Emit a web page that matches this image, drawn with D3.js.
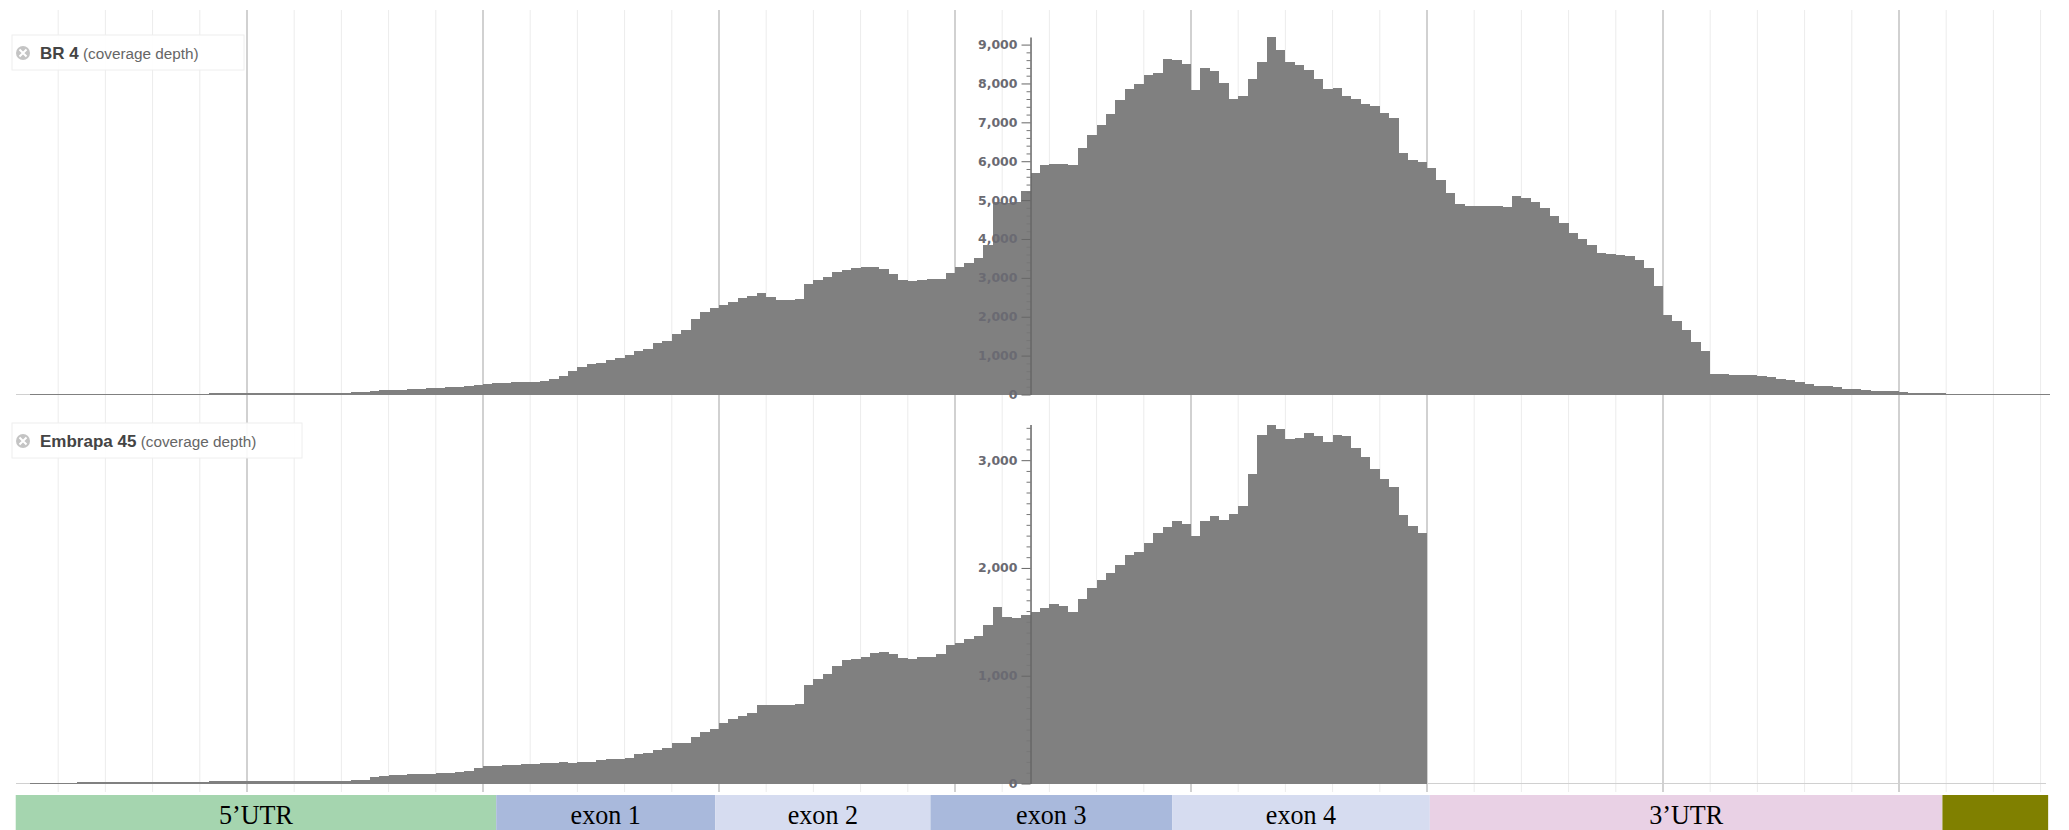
<!DOCTYPE html>
<html>
<head>
<meta charset="utf-8">
<script src="https://cdn.jsdelivr.net/npm/d3@7"></script>
<style>
  body { margin: 0; background: #fff; }
  svg { display: block; }
</style>
</head>
<body>
<div id="chart"></div>
<script>
// coverage depth per bin (one bar per bin)
var br4Depth = [
  0, 0, 5, 8, 10, 10, 12, 12, 14, 15, 15, 16, 18, 18, 20, 20, 22, 22, 24, 25,
  25, 26, 28, 28, 30, 30, 32, 33, 35, 36, 38, 40, 42, 45, 48, 50, 52, 55,
  100, 108, 118, 126, 138, 150, 165, 178, 190, 205, 222, 248, 280, 292, 300, 312, 318, 330,
  343, 411, 463, 600, 720, 788, 823, 900, 943, 1028, 1131, 1183, 1328, 1388, 1568, 1671,
  1945, 2117, 2228, 2297, 2382, 2485, 2528, 2614, 2502, 2442, 2434, 2459, 2853, 2948,
  3033, 3153, 3196, 3248, 3282, 3290, 3239, 3102, 2948, 2922, 2956, 2973, 2973, 3115,
  3290, 3378, 3510, 3850, 4950, 4930, 4950, 5230,
  5685, 5900, 5925, 5925, 5900, 6350, 6670, 6935, 7225, 7570, 7850, 7980, 8210, 8260,
  8640, 8600, 8490, 7825, 8390, 8320, 8020, 7595, 7680, 8110, 8560, 9195, 8850, 8550,
  8470, 8350, 8125, 7850, 7895, 7680, 7595, 7465, 7420, 7235, 7105, 6200, 6030, 5970,
  5820, 5515, 5195, 4900, 4855, 4855, 4855, 4855, 4810, 5110, 5045,
  4950, 4800, 4600, 4420, 4150, 4000, 3850, 3650, 3620, 3600, 3550, 3450, 3250, 2800,
  2050, 1900, 1650, 1360, 1110, 530, 515, 505, 500, 495, 480, 440, 400, 370, 330, 280,
  230, 210, 190, 150, 140, 120, 95, 85, 80, 70, 50, 45, 40, 30, 20, 18, 15, 12, 10,
  8, 6, 5, 4, 3, 2
];

var embrapaDepth = [
  0, 0, 3, 5, 6, 8, 8, 10, 10, 12, 12, 13, 14, 15, 15, 16, 16, 17, 18, 18,
  18, 19, 20, 20, 20, 21, 22, 22, 22, 23, 24, 24, 25, 26, 26, 27, 28, 30,
  60, 70, 75, 80, 85, 88, 90, 95, 100, 110, 120, 140, 160, 165, 170, 175, 180, 185, 190, 193,
  195, 192, 195, 200, 216, 226, 226, 241, 278, 285, 315, 331, 377, 377, 433, 482, 510, 557,
  597, 628, 650, 733, 727, 733, 733, 742, 912, 968, 1020, 1092, 1144, 1154, 1175, 1212,
  1219, 1203, 1160, 1154, 1172, 1172, 1200, 1284, 1308, 1340, 1370, 1475, 1640, 1547, 1531, 1568,
  1593, 1633, 1661, 1649, 1593, 1710, 1810, 1887, 1955, 2032, 2119, 2150, 2227, 2326,
  2378, 2434, 2406, 2298, 2434, 2481, 2444, 2500, 2577, 2870, 3232, 3331, 3285, 3201,
  3207, 3248, 3223, 3164, 3238, 3223, 3109, 3031, 2917, 2821, 2747, 2490, 2388, 2326
];

// gene model regions, in bins
var regionNames  = ["5\u2019UTR", "exon 1", "exon 2", "exon 3", "exon 4", "3\u2019UTR", ""];
var regionStarts = [0.5, 51.4, 74.6, 97.4, 123.0, 150.3, 204.6];
var regionEnds   = [51.4, 74.6, 97.4, 123.0, 150.3, 204.6, 215.8];
var regionColors = ["#a5d5af", "#a9b9dc", "#d6dcf0", "#a9b9dc", "#d6dcf0", "#e9d1e5", "#808000"];

var trackNames = ["BR 4", "Embrapa 45"];

var width = 2069, height = 830;
var nBins = 216, axisBin = 108;

var svg = d3.select("#chart").append("svg")
    .attr("width", width)
    .attr("height", height);

// x: bins -> pixels
var x = d3.scaleLinear().domain([0, nBins]).range([11, 11 + nBins * 9.44]);

// gridlines every 5 bins, stronger every 25
var gridBins = d3.range(5, nBins, 5);
svg.append("g").selectAll("line")
    .data(gridBins)
    .enter()
    .append("line")
    .attr("x1", function(d) { return x(d); })
    .attr("x2", function(d) { return x(d); })
    .attr("y1", 10)
    .attr("y2", 792)
    .style("stroke", function(d) { return d % 25 === 0 ? "#c6c6c6" : "#ececec"; })
    .style("stroke-width", function(d) { return d % 25 === 0 ? 1.6 : 1; });

var tracks = [
  {name: trackNames[0], data: br4Depth, y0: 394.5, y1: 37, minor: 200, boxTop: 35, boxW: 232},
  {name: trackNames[1], data: embrapaDepth, y0: 783.5, y1: 424.5, minor: 100, boxTop: 423, boxW: 290}
];

tracks.forEach(function(t) {
  var y = d3.scaleLinear()
      .domain([0, d3.max(t.data)])
      .range([t.y0, t.y1]);

  var g = svg.append("g");

  // baseline
  g.append("line")
      .attr("x1", 16).attr("x2", 2046)
      .attr("y1", t.y0).attr("y2", t.y0)
      .style("stroke", "#d0d0d0");

  // bars
  g.selectAll("rect")
      .data(t.data)
      .enter()
      .append("rect")
      .attr("x", function(d, i) { return x(i); })
      .attr("width", function(d, i) { return x(i + 1) - x(i); })
      .attr("y", function(d) { return y(d); })
      .attr("height", function(d) { return t.y0 - y(d); })
      .attr("shape-rendering", "crispEdges")
      .style("fill", "#808080");

  // minor ticks
  var minorTicks = d3.range(0, y.domain()[1], t.minor).filter(function(v) { return v % 1000 !== 0; });
  g.append("g")
      .attr("transform", "translate(" + x(axisBin) + ",0)")
      .call(d3.axisLeft(y).tickValues(minorTicks).tickSize(4).tickFormat(""))
      .call(function(a) {
        a.select(".domain").remove();
        a.selectAll("line").style("stroke", "#777");
      });

  // y axis
  var majorTicks = d3.range(0, y.domain()[1], 1000);
  g.append("g")
      .attr("transform", "translate(" + x(axisBin) + ",0)")
      .call(d3.axisLeft(y).tickValues(majorTicks).tickSize(9).tickSizeOuter(0)
            .tickPadding(4).tickFormat(d3.format(",")))
      .call(function(a) {
        a.select(".domain").style("stroke", "#666").style("stroke-width", 1.5);
        a.selectAll("line").style("stroke", "#666");
        a.selectAll("text")
          .style("font-family", "DejaVu Sans")
          .style("font-weight", "bold")
          .style("font-size", "12.5px")
          .style("fill", "#6a6a72");
      });

  // track label box
  var box = svg.append("g").attr("transform", "translate(12," + t.boxTop + ")");
  box.append("rect")
      .attr("width", t.boxW).attr("height", 35)
      .style("fill", "#fff").style("fill-opacity", 0.9)
      .style("stroke", "#eeeeee");
  box.append("circle")
      .attr("cx", 11).attr("cy", 18).attr("r", 7)
      .style("fill", "#c4c4c4");
  box.append("path")
      .attr("d", "M7.5,14.5L14.5,21.5M14.5,14.5L7.5,21.5")
      .style("stroke", "#fff").style("stroke-width", 2);
  var label = box.append("text")
      .attr("x", 28).attr("y", 24)
      .style("font-family", "Liberation Sans, Arial, sans-serif");
  label.append("tspan")
      .text(t.name)
      .style("font-weight", "bold").style("font-size", "17px").style("fill", "#444");
  label.append("tspan")
      .text(" (coverage depth)")
      .style("font-size", "15.3px").style("fill", "#666");
});

// gene model bar
var ann = svg.append("g");
ann.selectAll("rect")
    .data(regionNames)
    .enter()
    .append("rect")
    .attr("x", function(d, i) { return x(regionStarts[i]); })
    .attr("width", function(d, i) { return x(regionEnds[i]) - x(regionStarts[i]); })
    .attr("y", 795)
    .attr("height", 35)
    .style("fill", function(d, i) { return regionColors[i]; });

// labels are a bit condensed in the original
ann.selectAll("text")
    .data(regionNames)
    .enter()
    .append("text")
    .attr("transform", function(d, i) {
      var cx = (x(regionStarts[i]) + x(regionEnds[i])) / 2;
      return "translate(" + cx + ",823.5) scale(0.95,1)";
    })
    .attr("text-anchor", "middle")
    .style("font-family", "Liberation Serif, 'Times New Roman', serif")
    .style("font-size", "27.5px")
    .style("fill", "#000")
    .text(function(d) { return d; });
</script>
</body>
</html>
